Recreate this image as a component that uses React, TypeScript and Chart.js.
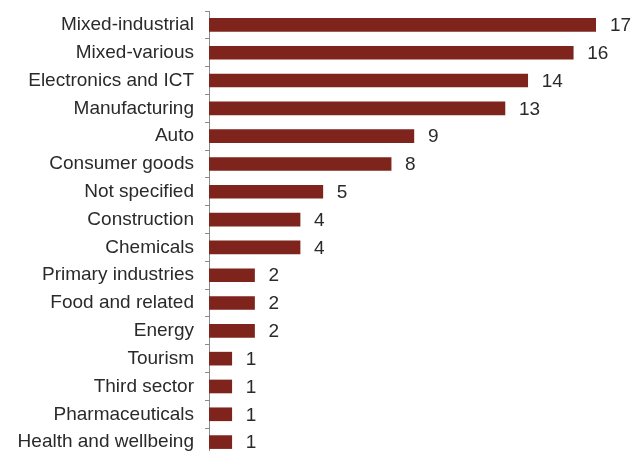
import React, { useEffect, useRef } from "react";
import { Chart, registerables } from "chart.js";

Chart.register(...registerables);

const categories = [
  "Mixed-industrial",
  "Mixed-various",
  "Electronics and ICT",
  "Manufacturing",
  "Auto",
  "Consumer goods",
  "Not specified",
  "Construction",
  "Chemicals",
  "Primary industries",
  "Food and related",
  "Energy",
  "Tourism",
  "Third sector",
  "Pharmaceuticals",
  "Health and wellbeing",
];
const values = [17, 16, 14, 13, 9, 8, 5, 4, 4, 2, 2, 2, 1, 1, 1, 1];

const FONT = "'Liberation Sans', Arial, Helvetica, sans-serif";

const valueLabels = {
  id: "valueLabels",
  afterDatasetsDraw(chart: any) {
    const ctx = chart.ctx;
    const meta = chart.getDatasetMeta(0);
    ctx.save();
    ctx.font = `19px ${FONT}`;
    ctx.fillStyle = "#2a2a2a";
    ctx.textAlign = "left";
    ctx.textBaseline = "middle";
    meta.data.forEach((bar: any, i: number) => {
      ctx.fillText(String(values[i]), bar.x + 14, bar.y + 1);
    });
    ctx.restore();
  },
};

export default function App() {
  const ref = useRef<HTMLCanvasElement>(null);
  useEffect(() => {
    if (!ref.current) return;
    const chart = new Chart(ref.current, {
      type: "bar",
      data: {
        labels: categories,
        datasets: [
          {
            data: values,
            backgroundColor: "#7e241c",
            borderWidth: 0,
            barThickness: 13,
          },
        ],
      },
      options: {
        indexAxis: "y",
        responsive: false,
        animation: false,
        layout: { padding: { top: 11, right: 36, bottom: 0, left: 0 } },
        plugins: {
          legend: { display: false },
          tooltip: { enabled: false },
        },
        scales: {
          x: {
            display: false,
            min: 0,
            max: 17,
          },
          y: {
            afterFit: (scale: any) => {
              scale.width = 209;
              scale.paddingTop = 0;
              scale.paddingBottom = 0;
            },
            border: { display: true, color: "#8a8a8a", width: 1 },
            grid: {
              display: true,
              drawOnChartArea: false,
              drawTicks: true,
              tickLength: 4,
              color: "#8a8a8a",
              offset: true,
            },
            ticks: {
              padding: 11,
              color: "#2a2a2a",
              font: { family: FONT, size: 19 },
              autoSkip: false,
            },
          },
        },
      },
      plugins: [valueLabels],
    });
    return () => chart.destroy();
  }, []);
  return (
    <div
      style={{
        position: "fixed",
        left: 0,
        top: 0,
        width: 632,
        height: 451,
        overflow: "hidden",
        background: "#fff",
      }}
    >
      <canvas ref={ref} width={632} height={456} style={{ display: "block" }} />
    </div>
  );
}
